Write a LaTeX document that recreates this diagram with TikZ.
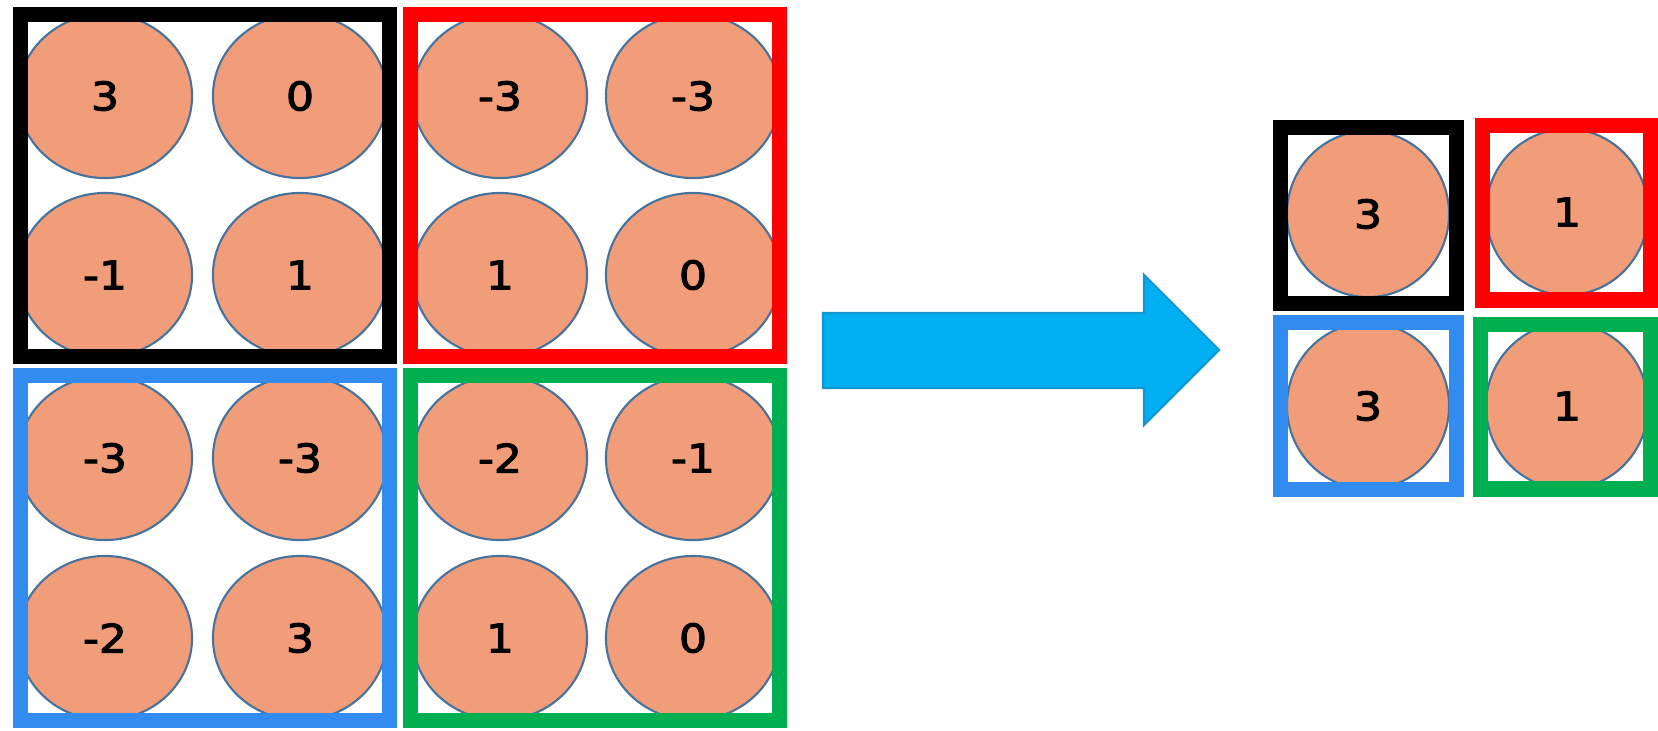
\documentclass[tikz,border=0pt]{standalone}
\usepackage{fontspec}
\setmainfont{DejaVu Sans}
\newfontfamily\digitfont[FakeBold=2.6, FakeStretch=1.12]{DejaVu Sans}
\usetikzlibrary{shapes.geometric}

\definecolor{salmon}{RGB}{242,157,121}
\definecolor{rim}{RGB}{70,114,156}
\definecolor{fblue}{RGB}{50,140,240}
\definecolor{fgreen}{RGB}{0,176,80}
\definecolor{fred}{RGB}{255,0,0}
\definecolor{arrowblue}{RGB}{0,176,240}
\definecolor{arrowrim}{RGB}{20,150,210}

\tikzset{
  cell/.style={ellipse, draw=rim, fill=salmon, line width=0.6pt,
    minimum width=1.74cm, minimum height=1.64cm, inner sep=0pt,
    font=\digitfont\fontsize{11.2}{13}\selectfont},
  small/.style={cell, minimum width=1.62cm, minimum height=1.66cm},
  poolbox/.style={line width=4.3pt}
}

\begin{document}
\begin{tikzpicture}[x=0.01cm, y=-0.01cm]
            \useasboundingbox (0,0) rectangle (1658,730);

            % input map
            \node[cell] (a11) at (105,96) {3};
            \node[cell] (a12) at (300,96) {0};
            \node[cell] (a13) at (500,96) {-3};
            \node[cell] (a14) at (693,96) {-3};
            \node[cell] (a21) at (105,275) {-1};
            \node[cell] (a22) at (300,275) {1};
            \node[cell] (a23) at (500,275) {1};
            \node[cell] (a24) at (693,275) {0};
            \node[cell] (a31) at (105,458) {-3};
            \node[cell] (a32) at (300,458) {-3};
            \node[cell] (a33) at (500,458) {-2};
            \node[cell] (a34) at (693,458) {-1};
            \node[cell] (a41) at (105,638) {-2};
            \node[cell] (a42) at (300,638) {3};
            \node[cell] (a43) at (500,638) {1};
            \node[cell] (a44) at (693,638) {0};

            \draw[poolbox, black] (20.5,14.5) rectangle (389.5,356.5);
            \draw[poolbox, fred] (410.5,14.5) rectangle (779.5,356.5);
            \draw[poolbox, fblue] (20.5,375.5) rectangle (389.5,720.5);
            \draw[poolbox, fgreen] (410.5,375.5) rectangle (779.5,720.5);

            % arrow
            \filldraw[fill=arrowblue, draw=arrowrim, line width=0.6pt]
              (823,313) -- (1144,313) -- (1144,275) -- (1219,350)
              -- (1144,425) -- (1144,388) -- (823,388) -- cycle;

            % pooled map
            \node[small] (b11) at (1368,214) {3};
            \node[small] (b12) at (1567,212) {1};
            \node[small] (b21) at (1368,406) {3};
            \node[small] (b22) at (1567,406) {1};

            \draw[poolbox, black] (1280.5,127.5) rectangle (1456.5,303.5);
            \draw[poolbox, fred] (1482.5,125.5) rectangle (1651,300);
            \draw[poolbox, fblue] (1280.5,322.5) rectangle (1456.5,489.5);
            \draw[poolbox, fgreen] (1480.5,324.5) rectangle (1651,489);
        \end{tikzpicture}
\end{document}
